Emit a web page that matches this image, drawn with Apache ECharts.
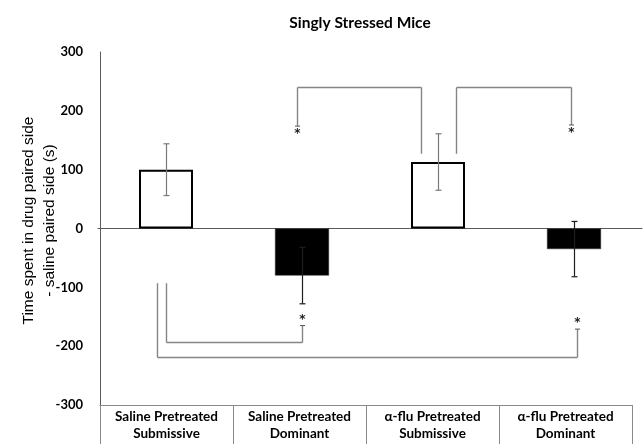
<!DOCTYPE html>
<html>
<head>
<meta charset="utf-8">
<script src="https://cdn.jsdelivr.net/npm/echarts@6/dist/echarts.min.js"></script>
<style>
  html, body { margin: 0; padding: 0; background: #fff; }
  #chart { width: 643px; height: 444px; }
</style>
</head>
<body>
<div id="chart"></div>
<script>
// Groups and their mean preference scores (s), with error (SEM)
const categories = [
  'Saline Pretreated\nSubmissive',
  'Saline Pretreated\nDominant',
  'α-flu Pretreated\nSubmissive',
  'α-flu Pretreated\nDominant'
];
const meanValues = [100, -80, 113, -35];
const errorValues = [44, 48, 48, 47];

// Value axis range
const yMin = -300;
const yMax = 300;
const yStep = 100;

// Significance brackets: [fromGroup, toGroup, bracketLevel, fromEnd, toEnd]
const comparisons = [
  [1, 2, 240, 174, 127],
  [2, 3, 240, 127, 176],
  [0, 1, -193, -93, -165],
  [0, 3, -218, -93, -171]
];

// Drawing details for each bracket: pixel nudges of its two legs and which end carries the star
const bracketLayout = [
  { dx: [-5, -17], star: 0 },
  { dx: [18, -3], star: 1 },
  { dx: [0, 0], star: 1 },
  { dx: [-9, 3], star: 1 }
];

const LABEL_FONT = 'Lato, "Open Sans", sans-serif';
const TABLE_LINE = '#8a8a8a';
const AXIS_LINE = '#5a5a5a';

const chart = echarts.init(document.getElementById('chart'), null, { renderer: 'canvas' });

// Submissive groups are open bars, dominant groups are filled
const isDominant = i => i % 2 === 1;

const barData = meanValues.map((v, i) => ({
  value: v,
  itemStyle: isDominant(i)
    ? { color: '#000000', borderColor: '#333333', borderWidth: 0.5 }
    : { color: '#ffffff', borderColor: '#000000', borderWidth: 2 }
}));

function renderErrorBar(params, api) {
  const i = api.value(0);
  const m = api.value(1);
  const e = api.value(2);
  const top = api.coord([i, m + e]);
  const bot = api.coord([i, m - e]);
  const x = Math.round(top[0]) + 0.5;
  const style = {
    stroke: isDominant(params.dataIndex) ? '#1e1e1e' : '#7a7a7a',
    lineWidth: 1.2
  };
  const cap = 3;
  return {
    type: 'group',
    children: [
      { type: 'line', shape: { x1: x, y1: top[1], x2: x, y2: bot[1] }, style },
      { type: 'line', shape: { x1: x - cap, y1: top[1], x2: x + cap, y2: top[1] }, style },
      { type: 'line', shape: { x1: x - cap, y1: bot[1], x2: x + cap, y2: bot[1] }, style }
    ]
  };
}

function renderBracket(params, api) {
  const lay = bracketLayout[params.dataIndex];
  const from = api.value(0);
  const to = api.value(1);
  const level = api.value(2);
  const ends = [api.value(3), api.value(4)];
  const idx = [from, to];
  const xs = idx.map((g, k) => Math.round(api.coord([g, level])[0] + lay.dx[k]) + 0.5);
  const yLevel = Math.round(api.coord([from, level])[1]) + 0.5;
  const yEnds = ends.map(v => api.coord([from, v])[1]);
  const style = { stroke: '#858585', lineWidth: 1.4 };
  const children = [
    { type: 'line', shape: { x1: xs[0], y1: yEnds[0], x2: xs[0], y2: yLevel }, style },
    { type: 'line', shape: { x1: xs[0], y1: yLevel, x2: xs[1], y2: yLevel }, style },
    { type: 'line', shape: { x1: xs[1], y1: yLevel, x2: xs[1], y2: yEnds[1] }, style }
  ];
  const s = lay.star;
  const sx = xs[s];
  const sy = yEnds[s];
  children.push({ type: 'line', shape: { x1: sx - 2.5, y1: sy, x2: sx + 2.5, y2: sy }, style: { stroke: '#555', lineWidth: 1 } });
  const below = level > 0;
  children.push({
    type: 'text',
    style: {
      text: '*',
      x: sx,
      y: below ? sy + 8 : sy - 6,
      align: 'center',
      verticalAlign: 'middle',
      font: 'bold 12px "DejaVu Sans", sans-serif',
      fill: '#222'
    }
  });
  return { type: 'group', children };
}

const option = {
  backgroundColor: '#ffffff',
  animation: false,
  title: {
    text: 'Singly Stressed Mice',
    left: 355,
    top: 10,
    textAlign: 'center',
    textStyle: { fontFamily: LABEL_FONT, fontWeight: 'bold', fontSize: 15.5, color: '#000' }
  },
  grid: [
    { left: 98, top: 52, width: 544, height: 353 },
    { left: 100, top: 52, width: 532, height: 353 }
  ],
  xAxis: [
    {
      gridIndex: 0,
      type: 'category',
      data: categories,
      axisLine: { show: true, onZero: true, lineStyle: { color: AXIS_LINE, width: 1 } },
      axisTick: { show: false },
      axisLabel: { show: false },
      splitLine: { show: false }
    },
    {
      gridIndex: 1,
      type: 'category',
      data: categories,
      position: 'bottom',
      axisLine: { show: true, onZero: false, lineStyle: { color: TABLE_LINE, width: 1 } },
      axisTick: { show: true, interval: 0, length: 39, lineStyle: { color: TABLE_LINE, width: 1 } },
      axisLabel: {
        interval: 0,
        margin: 3,
        color: '#000',
        fontFamily: LABEL_FONT,
        fontWeight: 'bold',
        fontSize: 13.5,
        lineHeight: 17
      },
      splitLine: { show: false }
    }
  ],
  yAxis: [
    {
      gridIndex: 0,
      type: 'value',
      min: yMin,
      max: yMax,
      interval: yStep,
      show: false
    },
    {
      gridIndex: 1,
      type: 'value',
      min: yMin,
      max: yMax,
      interval: yStep,
      axisLine: { show: true, lineStyle: { color: AXIS_LINE, width: 1 } },
      axisTick: { show: false },
      splitLine: { show: false },
      axisLabel: {
        margin: 17,
        color: '#000',
        fontFamily: LABEL_FONT,
        fontWeight: 'bold',
        fontSize: 13
      },
      name: 'Time spent in drug paired side\n- saline paired side (s)',
      nameLocation: 'middle',
      nameGap: 40,
      nameMoveOverlap: false,
      nameRotate: 90,
      nameTextStyle: {
        fontFamily: '"Liberation Sans", Arial, sans-serif',
        fontSize: 15.5,
        lineHeight: 21,
        color: '#000',
        padding: [0, 0, 0, 16]
      }
    }
  ],
  series: [
    {
      type: 'bar',
      xAxisIndex: 0,
      yAxisIndex: 0,
      data: barData,
      barWidth: 54,
      z: 2
    },
    {
      type: 'custom',
      xAxisIndex: 0,
      yAxisIndex: 0,
      renderItem: renderErrorBar,
      encode: { x: 0, y: 1 },
      data: meanValues.map((m, i) => [i, m, errorValues[i]]),
      z: 3
    },
    {
      type: 'custom',
      xAxisIndex: 0,
      yAxisIndex: 0,
      renderItem: renderBracket,
      encode: { x: 0, y: 2 },
      data: comparisons,
      z: 4
    }
  ]
};

chart.setOption(option);
</script>
</body>
</html>
